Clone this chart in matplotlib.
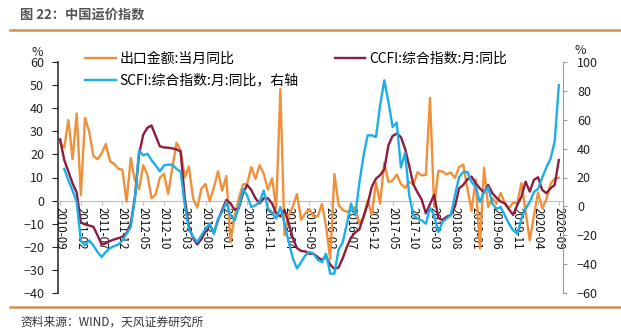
import matplotlib
matplotlib.use("Agg")
import matplotlib.pyplot as plt
from matplotlib.lines import Line2D
import numpy as np
import pandas as pd

plt.rcParams['font.family'] = ['Noto Sans CJK SC', 'DejaVu Sans']

# ---- data ----
months = pd.period_range("2010-09", "2020-09", freq="M").strftime("%Y-%m").tolist()

export_yoy = [25.1, 22.9, 34.9, 17.9, 37.7, 2.4, 35.8, 29.9, 19.4, 17.9,
              20.4, 24.5, 17.1, 15.9, 13.8, 13.4, -0.5, 18.4, 8.9, 4.9,
              15.3, 11.3, 1.0, 2.7, 9.9, 11.6, 2.9, 14.1, 25.0, 21.8,
              10.0, 14.7, 1.0, -3.1, 5.1, 7.2, -0.3, 5.6, 12.7, 4.3,
              10.6, -18.1, -6.6, 0.9, 7.0, 7.2, 14.5, 9.4, 15.3, 11.6,
              4.7, 9.7, -3.3, 48.3, -15.0, -6.4, -2.5, 2.8, -8.3, -5.5,
              -3.7, -6.9, -6.8, -1.4, -11.2, -25.4, 11.5, -1.8, -4.1, -4.8,
              -4.4, -2.8, -10.0, -7.3, 0.1, -6.1, 7.9, -1.3, 16.4, 8.0,
              8.7, 11.3, 7.2, 5.5, 8.1, 6.9, 12.3, 10.9, 11.1, 44.5,
              -2.7, 12.9, 12.6, 11.3, 12.2, 9.8, 14.5, 15.6, 5.4, -4.4,
              9.1, -20.7, 14.2, -2.7, 1.1, -1.3, 3.3, -1.0, -3.2, -0.9,
              -1.1, 7.6, None, -17.2, -6.6, 3.5, -3.3, 0.5, 7.2, 9.5,
              9.9]

ccfi_yoy = [26.5, 17.6, 12.6, 7.5, 3.5, -9.5, -10.3, -10.8, -11.3, -15.0,
            -19.0, -18.5, -17.5, -16.8, -16.3, -15.6, -14.0, -10.0, 1.5, 20.0,
            28.5, 31.5, 32.5, 28.0, 23.5, 23.0, 22.9, 22.6, 22.2, 21.2,
            1.0, -11.3, -16.3, -19.0, -16.7, -13.4, -10.5, -14.1, -8.4, -4.0,
            0.3, -1.2, -4.0, -3.3, 3.2, 6.8, 4.6, 1.0, -1.2, 1.0,
            1.0, -1.2, -5.5, -6.9, -4.0, -9.8, -16.3, -20.6, -21.8, -22.0,
            -23.0, -23.0, -24.5, -25.7, -24.2, -27.8, -29.5, -29.0, -25.0, -20.0,
            -16.0, -13.8, -12.5, -7.0, -1.5, 6.0, 9.5, 11.0, 13.5, 24.0,
            28.0, 29.0, 27.5, 22.5, 15.0, 7.0, 3.5, 0.5, -5.5, -1.5,
            2.5, -7.5, -8.4, -7.0, -6.2, -2.6, 5.3, 6.8, 9.2, 10.4,
            7.5, 5.3, 3.5, 6.8, 3.2, 1.2, -0.4, -1.2, -3.8, -6.2,
            -1.9, 1.7, 8.2, 3.9, 9.0, 10.1, 4.6, 3.2, 5.3, 6.8,
            17.6]

scfi_yoy = [None, 26.0, 18.0, 11.0, 3.0, -24.0, -27.0, -23.6, -27.0, -31.6,
            -35.0, -31.6, -29.0, -27.5, -26.5, -23.6, -19.0, -14.3, 5.3, 38.8,
            35.3, 36.5, 32.0, 28.4, 24.2, 28.4, 28.9, 28.9, 26.0, 24.0,
            1.0, -15.5, -21.0, -24.7, -20.0, -15.5, -12.0, -19.0, -8.5, -4.0,
            3.0, -6.2, -9.7, -0.5, 12.0, 7.6, -0.5, 0.7, 3.0, 11.0,
            -1.6, -4.0, -8.5, -0.5, -12.0, -24.7, -36.0, -43.0, -38.6, -34.0,
            -31.6, -32.8, -37.0, -38.6, -32.8, -46.6, -46.6, -30.0, -25.0, -12.0,
            1.8, -6.2, 16.0, 35.0, 49.2, 49.2, 48.0, 70.0, 87.3, 72.3,
            55.0, 58.0, 27.0, 37.0, 7.6, -6.2, -8.5, -9.7, -12.0, -1.0,
            -6.2, -17.8, -10.9, -8.5, -6.2, 7.6, 20.3, 23.8, 23.8, 16.9,
            13.4, 3.0, 9.9, 13.4, 1.8, -1.6, -0.5, -6.2, -12.0, -16.6,
            -19.0, -8.5, -1.6, 3.0, 9.9, 12.2, 20.0, 27.0, 33.0, 45.0,
            84.0]

labels = ["出口金额:当月同比", "SCFI:综合指数:月:同比，右轴", "CCFI:综合指数:月:同比"]
c_exp, c_ccfi, c_scfi = "#F0903A", "#8E1C3E", "#1CAEE6"

def series(vals):
    x = np.arange(len(months))
    y = np.array([np.nan if v is None else v for v in vals], dtype=float)
    ok = ~np.isnan(y)
    return x[ok], y[ok]

# ---- figure ----
W, H = 621, 336
fig = plt.figure(figsize=(W / 100, H / 100), dpi=100)
ax = fig.add_axes([58 / W, 43 / H, 505 / W, 231 / H])
ax2 = ax.twinx()

x, y = series(export_yoy)
l_exp, = ax.plot(x, y, color=c_exp, lw=1.7, zorder=3)
x, y = series(ccfi_yoy)
l_ccfi, = ax.plot(x, y, color=c_ccfi, lw=1.7, zorder=4)
x, y = series(scfi_yoy)
l_scfi, = ax2.plot(x, y, color=c_scfi, lw=1.7, zorder=3)

ax.set_xlim(-0.5, 121)
ax.set_ylim(-40, 60)
ax.set_yticks(range(-40, 61, 10))
ax2.set_ylim(-60, 100)
ax2.set_yticks(range(-60, 101, 20))

tick_idx = list(range(0, len(months), 5))
ax.set_xticks(tick_idx)
ax.set_xticklabels([months[i] for i in tick_idx])

for a in (ax, ax2):
    a.spines['top'].set_visible(False)
ax.spines['right'].set_visible(False)
ax2.spines['left'].set_visible(False)
ax2.spines['bottom'].set_visible(False)
ax.spines['bottom'].set_position(('data', 0))
ax.spines['bottom'].set_color('#BFBFBF')
ax.spines['left'].set_color('#222222')
ax.spines['left'].set_linewidth(1.1)
ax2.spines['right'].set_color('#9A9A9A')

ax.tick_params(axis='x', length=3, color='#BFBFBF', labelrotation=270,
               labelsize=8.3, pad=1.5, labelcolor='#111111')
ax.tick_params(axis='y', length=4, pad=6, labelsize=9, color='#222222',
               labelcolor='#222222')
ax2.tick_params(axis='y', length=3, pad=7, labelsize=9, color='#9A9A9A',
                labelcolor='#222222')

fig.text(37 / W, 1 - 52 / H, '%', ha='center', va='center', size=9, color='#222222')
fig.text(580 / W, 1 - 50 / H, '%', ha='center', va='center', size=9, color='#222222')

fig.legend(handles=[l_exp, l_scfi, l_ccfi], labels=labels, ncol=2,
           loc='upper left', bbox_to_anchor=(85 / W, 1 - 52 / H),
           frameon=False, fontsize=10, handlelength=2.2, handletextpad=0.3,
           columnspacing=2.6, labelspacing=0.55, borderpad=0, borderaxespad=0)

fig.text(20 / W, 1 - 15 / H, '图 22：中国运价指数', weight='bold', size=9.5,
         color='#555555', va='center', ha='left')
fig.add_artist(Line2D([10 / W, 1], [1 - 30 / H] * 2, color='#D4914E', lw=1.8))
fig.add_artist(Line2D([10 / W, 1], [1 - 307 / H] * 2, color='#D4914E', lw=1.8))
fig.text(20 / W, 1 - 322 / H, '资料来源：WIND，天风证券研究所', size=8.5,
         va='center', ha='left', color='#333333')

fig.savefig("out.png", dpi=100)
